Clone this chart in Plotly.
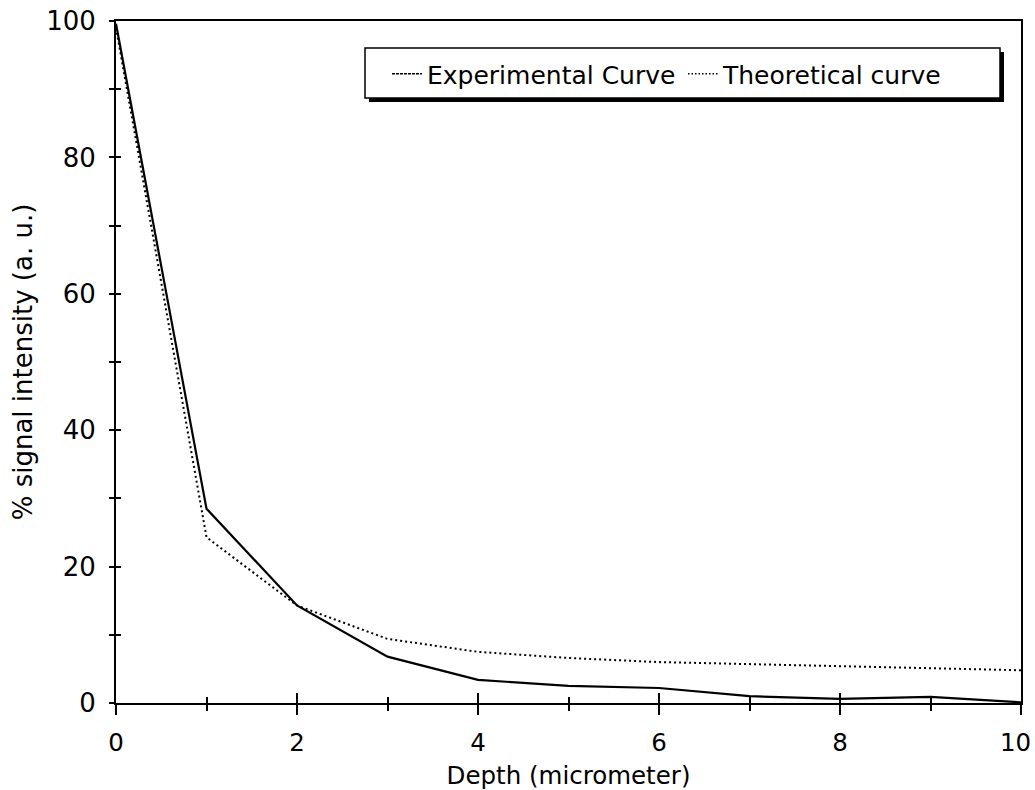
import plotly.graph_objects as go

depth = [0, 1, 2, 3, 4, 5, 6, 7, 8, 9, 10]
experimental = [99.6, 28.5, 14.3, 6.8, 3.4, 2.5, 2.2, 1.0, 0.6, 0.9, 0.1]
theoretical = [99.0, 24.3, 14.3, 9.4, 7.5, 6.6, 6.0, 5.7, 5.3, 5.1, 4.8]

x_ticks = [0, 2, 4, 6, 8, 10]
x_tick_labels = ["0", "2", "4", "6", "8", "10"]
y_ticks = [0, 20, 40, 60, 80, 100]
y_tick_labels = ["0", "20", "40", "60", "80", "100"]

FONT = "DejaVu Sans"

fig = go.Figure()
fig.add_trace(go.Scatter(x=depth, y=experimental, mode="lines", showlegend=False,
                         line=dict(color="black", width=2.2)))
fig.add_trace(go.Scatter(x=depth, y=theoretical, mode="lines", showlegend=False,
                         line=dict(color="black", width=2, dash="2px,3px")))
# legend entries
fig.add_trace(go.Scatter(x=[None], y=[None], mode="lines", name="Experimental Curve",
                         xaxis="x2", yaxis="y2",
                         line=dict(color="black", width=1.5, dash="3px,1px")))
fig.add_trace(go.Scatter(x=[None], y=[None], mode="lines", name="Theoretical curve",
                         xaxis="x2", yaxis="y2",
                         line=dict(color="black", width=1.5, dash="1.5px,2px")))

def px_x(p):
    return (p - 116) / 905.0

def px_y(p):
    return (703 - p) / 682.0

# last x tick label drawn as annotation so it stays inside the page (right-aligned at the edge)
shown_text = x_tick_labels[:-1] + [""]

fig.update_layout(
    width=1035, height=790,
    margin=dict(l=116, r=14, t=21, b=87),
    paper_bgcolor="white", plot_bgcolor="rgba(0,0,0,0)",
    showlegend=True,
    xaxis=dict(range=[0, 10], tickvals=x_ticks, ticktext=shown_text,
               showline=True, linecolor="black", linewidth=2, mirror=True,
               ticks="outside", ticklen=10, tickwidth=1.5, tickcolor="black",
               minor=dict(dtick=1, tick0=0, ticks="outside", ticklen=6, tickwidth=1.5, tickcolor="black"),
               showgrid=False, zeroline=False, ticklabeloverflow="allow", automargin=False,
               tickfont=dict(family=FONT, size=24.5, color="black"),
               ticklabelstandoff=7,
               title=dict(text="Depth (micrometer)", font=dict(family=FONT, size=24.5, color="black"),
                          standoff=11)),
    yaxis=dict(range=[0, 100], tickvals=y_ticks, ticktext=y_tick_labels,
               showline=True, linecolor="black", linewidth=2, mirror=True,
               ticks="outside", ticklen=0, tickcolor="black",
               minor=dict(dtick=10, tick0=0, ticks="outside", ticklen=5, tickwidth=1.5, tickcolor="black"),
               showgrid=False, zeroline=False, automargin=False,
               tickfont=dict(family=FONT, size=26, color="black"),
               ticklabelstandoff=13,
               title=dict(text="% signal intensity (a. u.)", font=dict(family=FONT, size=26, color="black"),
                          standoff=6)),
    xaxis2=dict(range=[0, 10], overlaying="x", anchor="y", side="bottom", automargin=False,
                tickvals=x_ticks, showticklabels=False, showline=False,
                ticks="inside", ticklen=10, tickwidth=1.5, tickcolor="black",
                minor=dict(dtick=1, tick0=0, ticks="inside", ticklen=6, tickwidth=1.5, tickcolor="black"),
                showgrid=False, zeroline=False),
    yaxis2=dict(range=[0, 100], overlaying="y", anchor="x", side="left", automargin=False,
                tickvals=y_ticks, showticklabels=False, showline=False,
                ticks="inside", ticklen=0, tickcolor="black",
                minor=dict(dtick=10, tick0=0, ticks="inside", ticklen=5, tickwidth=1.5, tickcolor="black"),
                showgrid=False, zeroline=False),
    legend=dict(orientation="h", x=px_x(387), y=px_y(51), xanchor="left", yanchor="top",
                bgcolor="rgba(0,0,0,0)", borderwidth=0,
                font=dict(family=FONT, size=25, color="black"),
                entrywidth=251, entrywidthmode="pixels", itemwidth=30),
    annotations=[
        dict(x=x_ticks[-1], y=0, xref="x", yref="paper", text=x_tick_labels[-1],
             showarrow=False, xanchor="right", yanchor="middle", xshift=12, yshift=-39,
             font=dict(family=FONT, size=24.5, color="black")),
    ],
    shapes=[
        dict(type="rect", xref="paper", yref="paper",
             x0=px_x(369), x1=px_x(1004), y0=px_y(102), y1=px_y(52),
             fillcolor="black", line=dict(width=0), layer="above"),
        dict(type="rect", xref="paper", yref="paper",
             x0=px_x(365), x1=px_x(1000), y0=px_y(98), y1=px_y(48),
             fillcolor="white", line=dict(color="black", width=1.5), layer="above"),
    ],
)

fig.write_html("out.html")
